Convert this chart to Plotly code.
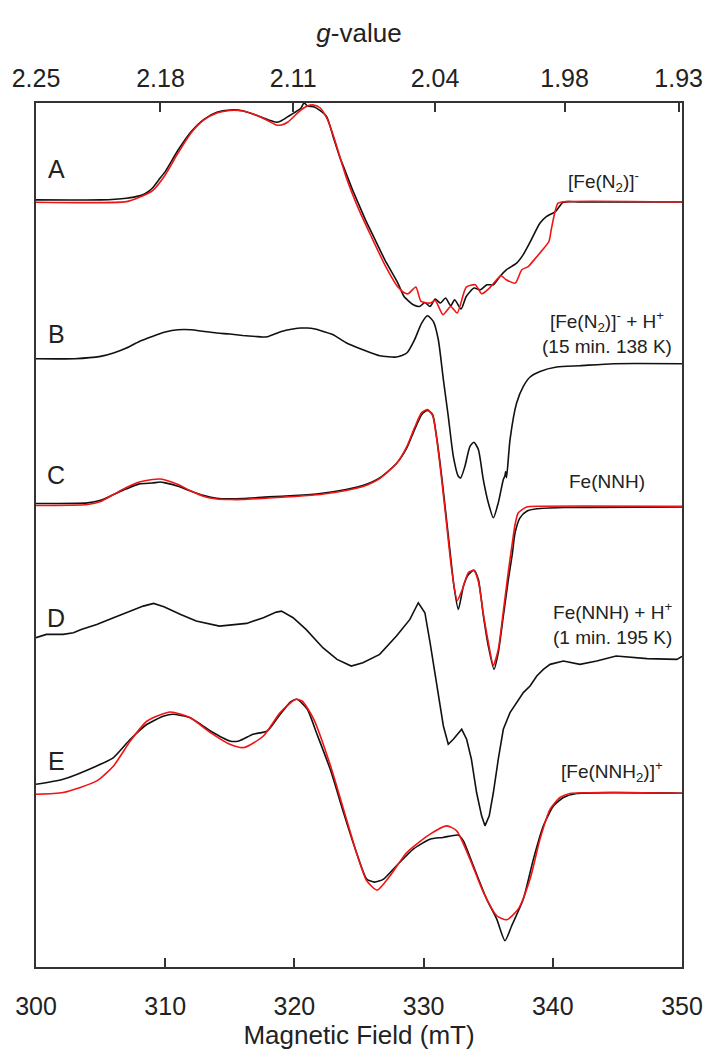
import plotly.graph_objects as go

# EPR spectra, field in mT, intensity in arbitrary units (relative to each baseline)

# A: [Fe(N2)]-
a_exp_field = [300, 305, 307, 308, 308.5, 309, 309.5, 310, 311, 312, 313, 314, 315, 316, 317, 318,
               318.6, 319, 319.5, 320, 320.5, 320.75, 321, 321.5, 322, 322.5, 323, 323.5, 324, 324.5,
               325, 325.5, 326, 326.5, 327, 328, 328.5, 329, 329.2, 329.7, 330.1, 330.5, 330.9, 331.3,
               331.7, 332.1, 332.4, 332.9, 333.3, 333.9, 334.4, 334.9, 335.4, 335.9, 336.4, 337.2,
               337.7, 338.2, 339.0, 339.5, 340.2, 340.8, 342, 350]
a_exp = [0.15, 0.15, 0.32, 0.55, 0.82, 1.32, 2.15, 2.98, 5.15, 6.98, 8.22, 8.92, 9.15, 9.08, 8.65, 8.15,
         7.92, 8.08, 8.48, 8.88, 9.32, 9.88, 9.55, 9.48, 9.08, 8.48, 6.48, 4.48, 2.82, 1.15,
         -0.35, -1.85, -3.18, -4.52, -5.85, -8.15, -9.55, -10.15, -10.35, -10.52, -10.12, -10.52, -9.78, -10.18,
         -9.68, -10.45, -9.85, -10.78, -9.52, -8.68, -8.85, -8.35, -8.35, -7.52, -6.85, -6.18,
         -5.35, -4.18, -2.18, -1.52, -1.02, -0.08, -0.05, -0.05]
a_sim_field = [300, 307, 308, 309, 310, 311, 312, 313, 314, 315, 316, 317, 318, 318.6, 319, 319.5,
               320, 320.5, 321, 321.5, 322, 322.5, 323, 324, 325, 326, 327, 328, 328.5, 328.8,
               329.4, 329.8, 330.5, 330.9, 331.5, 332.1, 332.6, 333.3, 334.0, 334.5, 335.1, 335.7,
               336.0, 336.4, 337.1, 337.6, 338.1, 338.6, 339.1, 339.7, 339.9, 340.4, 341.0, 350]
a_sim = [-0.08, -0.02, 0.42, 1.05, 2.65, 4.85, 6.85, 8.15, 8.85, 9.1, 9.05, 8.65, 8.05, 7.65, 7.65, 7.95,
         8.55, 9.15, 9.55, 9.65, 9.35, 8.35, 6.65, 2.45, -0.85, -3.65, -6.35, -8.55, -9.15, -9.25,
         -8.58, -10.02, -10.18, -9.92, -11.35, -10.52, -11.18, -8.58, -8.35, -9.25, -8.68, -7.78,
         -7.45, -7.85, -8.18, -6.85, -6.52, -5.78, -5.02, -4.02, -2.68, -0.18, -0.02, -0.05]

# B: [Fe(N2)]- + H+ (15 min, 138 K)
b_exp_field = [300, 303, 305, 306, 307, 308, 309, 310, 311, 312, 313, 314, 315, 316, 317, 317.5, 318,
               319, 320, 320.5, 321, 321.5, 322, 323, 324, 325.3, 326.6, 327.9, 328.7, 329.3, 329.85,
               330.3, 330.75, 331.14, 331.53, 331.91, 332.3, 332.69, 332.87, 333.2, 333.59, 333.9,
               334.24, 334.62, 335.01, 335.4, 335.78, 336.17, 336.3, 336.35, 336.42, 336.69, 337.2,
               337.72, 338.24, 339.01, 340.3, 342.1, 344.7, 350]
b_exp = [0.1, 0.1, 0.33, 0.67, 1.17, 1.83, 2.33, 2.77, 3.0, 3.0, 2.83, 2.67, 2.57, 2.43, 2.33, 2.27, 2.33,
         2.83, 3.1, 3.17, 3.17, 3.1, 2.93, 2.5, 1.7, 1.0, 0.4, 0.27, 0.67, 2.0, 3.67,
         4.4, 3.83, 2.0, -2.0, -5.67, -9.67, -11.67, -11.83, -10.67, -8.67, -8.27,
         -9.0, -12.0, -14.33, -15.83, -14.33, -12.0, -11.6, -11.2, -11.8, -8.0, -4.33,
         -2.67, -1.73, -1.17, -0.73, -0.6, -0.4, -0.4]

# C: Fe(NNH)
c_exp_field = [300, 304, 305, 306, 307, 308, 309, 309.6, 310, 311, 312, 313, 314, 315, 316, 318, 320,
               322, 324, 325.3, 326.6, 327.9, 328.7, 329.3, 329.85, 330.3, 330.7, 331.0, 331.4, 331.8,
               332.17, 332.35, 332.69, 333.08, 333.47, 333.9, 334.24, 334.63, 335.01, 335.45, 335.78,
               336.17, 336.56, 336.85, 337.08, 337.46, 337.98, 338.76, 340.82, 350]
c_exp = [0.2, 0.27, 0.53, 1.1, 1.67, 2.17, 2.25, 2.35, 2.27, 1.93, 1.43, 1.0, 0.73, 0.67, 0.7, 0.87, 1.0,
         1.2, 1.6, 2.0, 2.77, 4.2, 5.77, 7.6, 9.1, 9.53, 9.1, 6.93, 2.93, -1.73,
         -6.07, -8.07, -10.4, -8.07, -6.9, -6.47, -7.4, -11.07, -14.07, -16.4, -14.73,
         -11.07, -7.4, -5.0, -2.73, -1.23, -0.57, -0.33, -0.2, -0.13]
c_sim_field = [300, 304, 305, 306, 307, 308, 309, 309.6, 310, 311, 312, 313, 314, 315, 316, 318, 320,
               322, 324, 325.3, 326.6, 327.9, 328.7, 329.3, 329.85, 330.3, 330.7, 331.0, 331.4, 331.8,
               332.17, 332.6, 333.0, 333.47, 333.9, 334.24, 334.63, 335.01, 335.4, 335.78, 336.17,
               336.56, 336.85, 337.08, 337.33, 337.98, 339, 350]
c_sim = [0, 0.1, 0.4, 1.1, 1.8, 2.35, 2.6, 2.65, 2.55, 2.1, 1.45, 0.9, 0.65, 0.6, 0.6, 0.75, 0.9,
         1.1, 1.5, 1.9, 2.7, 4.2, 5.9, 7.8, 9.3, 9.6, 9.0, 6.8, 2.6, -2.1,
         -6.4, -9.5, -8.4, -6.7, -6.5, -7.6, -10.9, -13.7, -16.0, -14.4, -10.6,
         -6.6, -3.9, -1.9, -0.73, -0.15, -0.07, -0.07]

# D: Fe(NNH) + H+ (1 min, 195 K)
d_exp_field = [300, 300.8, 302.1, 302.9, 303.5, 304.7, 306, 307.3, 308.3, 309.1, 309.9, 311.2, 312.4,
               314.2, 316.3, 317.6, 318.6, 319.0, 319.9, 320.9, 322.2, 323.3, 324.4, 325.3, 326.6,
               327.9, 328.94, 329.59, 330.1, 330.5, 331.01, 331.53, 331.91, 332.3, 332.95, 333.33,
               333.7, 334.1, 334.49, 334.75, 335.08, 335.4, 335.78, 336.17, 336.69, 337.2, 337.72,
               338.24, 338.76, 339.27, 339.79, 340.82, 342.1, 343.4, 344.9, 347.3, 349.6, 350]
d_exp = [1.17, 1.5, 1.5, 1.67, 2.0, 2.5, 3.17, 3.83, 4.33, 4.6, 4.27, 3.5, 2.83,
         2.33, 2.6, 3.17, 3.73, 3.83, 3.17, 2.0, 0.17, -1.0, -1.67, -1.33, -0.5,
         1.33, 3.0, 4.67, 3.67, 0.67, -3.67, -7.67, -9.5, -9.0, -8.0, -9.0,
         -11.0, -14.33, -16.67, -17.67, -16.67, -14.33, -11.0, -8.0, -6.33, -5.33, -4.33,
         -3.67, -2.67, -2.0, -1.5, -1.17, -1.5, -1.17, -0.67, -0.93, -1.0, -0.7]

# E: [Fe(NNH2)]+
e_exp_field = [300, 302.1, 304.7, 306, 307.3, 308.6, 309.9, 310.6, 311.9, 313.5, 315, 315.7, 316.8,
               317.9, 318.8, 319.7, 320.2, 321, 321.7, 322.8, 323.8, 324.8, 325.6, 326.2, 326.9,
               327.9, 329.2, 330.5, 331.5, 332.7, 333.08, 333.85, 334.88, 335.66, 336.3, 336.82,
               337.72, 338.5, 339.27, 340.05, 340.82, 341.85, 350]
e_exp = [0.9, 1.4, 2.73, 3.57, 5.4, 6.9, 7.73, 7.9, 7.57, 6.23, 5.23, 5.23, 5.9,
         6.23, 7.73, 9.13, 9.4, 8.4, 6.07, 2.3, -1.93, -5.93, -8.6, -8.9, -8.6,
         -7.27, -5.6, -4.6, -4.43, -4.2, -4.77, -7.27, -10.6, -12.6, -14.77, -13.27,
         -10.6, -6.6, -3.27, -1.27, -0.43, -0.03, 0]
e_sim_field = [300, 302.1, 304.7, 306, 307.3, 308.6, 310.4, 311.9, 313.5, 315, 316.1, 317.6, 318.9,
               320.1, 320.6, 321.5, 322.8, 323.8, 324.8, 325.6, 326.4, 327.4, 328.7, 330.5, 331.8,
               332.56, 333.59, 334.63, 335.66, 336.43, 337.33, 338.24, 339.01, 339.79, 340.56,
               341.33, 350]
e_sim = [-0.1, 0.07, 1.23, 2.73, 5.23, 7.23, 8.13, 7.57, 6.07, 4.9, 4.57, 5.73, 8.07,
         9.4, 9.23, 7.4, 2.73, -1.6, -5.93, -8.77, -9.7, -8.27, -5.93, -4.1, -3.27,
         -3.77, -6.6, -9.93, -12.27, -12.67, -11.6, -8.6, -4.6, -1.6, -0.43,
         -0.03, 0]

trace_letters = ['A', 'B', 'C', 'D', 'E']
trace_names = ['[Fe(N<sub>2</sub>)]<sup>-</sup>',
               '[Fe(N<sub>2</sub>)]<sup>-</sup> + H<sup>+</sup><br>(15 min. 138 K)',
               'Fe(NNH)',
               'Fe(NNH) + H<sup>+</sup><br>(1 min. 195 K)',
               '[Fe(NNH<sub>2</sub>)]<sup>+</sup>']

# top axis: g-values
g_ticks = [2.25, 2.18, 2.11, 2.04, 1.98, 1.93]
FIELD_MIN, FIELD_MAX = 300, 350
G_AT_MIN = 2.25

# vertical stacking of the spectra
offsets = [76.65, 60.8, 46.2, 31.8, 17.4]
letter_y = [79.9, 63.4, 49.3, 34.9, 20.6]
name_y = [78.6, 63.5, 48.6, 34.4, 19.6]
name_x = [343.9, 344.2, 344.2, 344.6, 344.6]

FONT = 'Liberation Sans, Arial, sans-serif'
BLACK = '#111111'
RED = '#f01414'

exp_data = [(a_exp_field, a_exp), (b_exp_field, b_exp), (c_exp_field, c_exp),
            (d_exp_field, d_exp), (e_exp_field, e_exp)]
sim_data = [(a_sim_field, a_sim), None, (c_sim_field, c_sim), None, (e_sim_field, e_sim)]

fig = go.Figure()

for i, (fx, fy) in enumerate(exp_data):
    noisy = trace_letters[i] == 'D'
    fig.add_trace(go.Scatter(
        x=fx, y=[v + offsets[i] for v in fy], mode='lines',
        line=dict(color=BLACK, width=1.6, shape='linear' if noisy else 'spline', smoothing=0.6),
        showlegend=False, hoverinfo='skip'))
    if sim_data[i] is not None:
        sx, sy = sim_data[i]
        fig.add_trace(go.Scatter(
            x=sx, y=[v + offsets[i] for v in sy], mode='lines',
            line=dict(color=RED, width=1.6, shape='spline', smoothing=0.6),
            showlegend=False, hoverinfo='skip'))

# invisible trace to anchor the g-value axis
fig.add_trace(go.Scatter(x=[FIELD_MIN, FIELD_MAX], y=[0, 0], xaxis='x2', mode='lines',
                         line=dict(width=0), showlegend=False, hoverinfo='skip'))

for i, letter in enumerate(trace_letters):
    fig.add_annotation(x=301.55, y=letter_y[i], text=letter, showarrow=False,
                       font=dict(size=25, color='#222'), xanchor='center', yanchor='middle')
    fig.add_annotation(x=name_x[i], y=name_y[i], text=trace_names[i], showarrow=False,
                       font=dict(size=19, color='#222'), xanchor='center', yanchor='middle',
                       align='center')

axis_line = dict(showline=True, linecolor='#333', linewidth=1.5, showgrid=False, zeroline=False,
                 automargin=False)

# the page body adds an 8px margin, so the figure is a little smaller than the window
fig.update_layout(
    width=711, height=1042,
    margin=dict(l=28, r=37, t=95, b=83),
    plot_bgcolor='white', paper_bgcolor='white',
    font=dict(family=FONT, color='#222'),
    xaxis=dict(range=[FIELD_MIN, FIELD_MAX], tickvals=list(range(300, 351, 10)),
               ticks='inside', ticklen=9, tickwidth=1.5, tickcolor='#333',
               tickfont=dict(size=25), ticklabelstandoff=16,
               title=dict(text='Magnetic Field (mT)', font=dict(size=26), standoff=12),
               **axis_line),
    xaxis2=dict(range=[FIELD_MIN, FIELD_MAX], overlaying='x', side='top',
                tickvals=[FIELD_MIN * G_AT_MIN / g for g in g_ticks],
                ticktext=[f'{g:.2f}' for g in g_ticks],
                ticks='inside', ticklen=9, tickwidth=1.5, tickcolor='#333',
                tickfont=dict(size=25), ticklabelstandoff=4,
                title=dict(text='<i>g</i>-value', font=dict(size=26), standoff=14),
                **axis_line),
    yaxis=dict(range=[0, 86.5], showticklabels=False, ticks='', mirror=True, **axis_line),
)

fig.write_html('out.html')
